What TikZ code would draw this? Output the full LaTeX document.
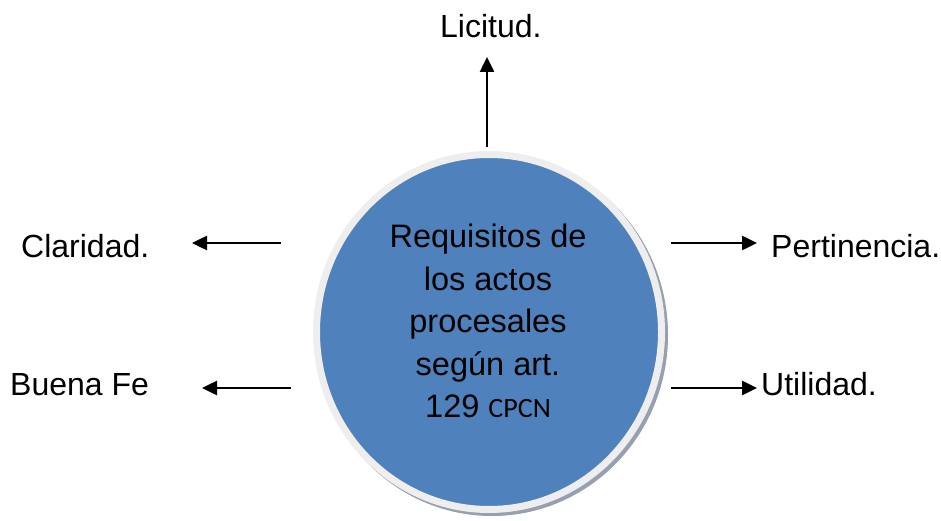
\documentclass[tikz,border=0pt]{standalone}
\usepackage{fontspec}
\setmainfont{Liberation Sans}
\newfontfamily\calib{Carlito}
\usetikzlibrary{arrows.meta,shapes.geometric}
\definecolor{ballblue}{RGB}{79,129,189}
\definecolor{rimgray}{RGB}{238,238,238}
\definecolor{shadowgray}{RGB}{150,160,176}
\begin{document}
\begin{tikzpicture}[x=1pt,y=-1pt,
  lbl/.style={inner sep=0pt,anchor=base west,font=\fontsize{32}{36}\selectfont},
  arr/.style={line width=2.5pt,-{Triangle[length=15pt,width=14pt]}}]
\useasboundingbox (0,0) rectangle (941,521);
% shadow and ball
\fill[shadowgray] (492,335) ellipse [x radius=176pt,y radius=181pt];
\node[ellipse, draw=rimgray, line width=7pt, fill=ballblue,
      minimum width=345pt, minimum height=355pt, inner sep=0pt] (circ) at (489,332) {};
\node[align=center, inner sep=0pt, anchor=north, font=\fontsize{32.5}{42.5}\selectfont]
  (req) at (488,224) {Requisitos de\\los actos\\procesales\\según art.\\129 {\calib\fontsize{28}{30}\selectfont CPCN}};
% labels
\node[lbl] (lic) at (440,38) {Licitud.};
\node[lbl] (cla) at (21,257) {Claridad.};
\node[lbl] (per) at (771,257) {Pertinencia.};
\node[lbl] (bue) at (10,395) {Buena Fe};
\node[lbl] (uti) at (761,395) {Utilidad.};
% arrow ends
\coordinate (lt) at (487,147);
\coordinate (lh) at (487,57);
\coordinate (ct) at (281,243);
\coordinate (ch) at (192,243);
\coordinate (pt) at (671,243);
\coordinate (ph) at (757,243);
\coordinate (bt) at (291,388);
\coordinate (bh) at (202,388);
\coordinate (ut) at (671,388);
\coordinate (uh) at (757,388);
\draw[arr] (lt) -- (lh);
\draw[arr] (ct) -- (ch);
\draw[arr] (pt) -- (ph);
\draw[arr] (bt) -- (bh);
\draw[arr] (ut) -- (uh);
\end{tikzpicture}
\end{document}
